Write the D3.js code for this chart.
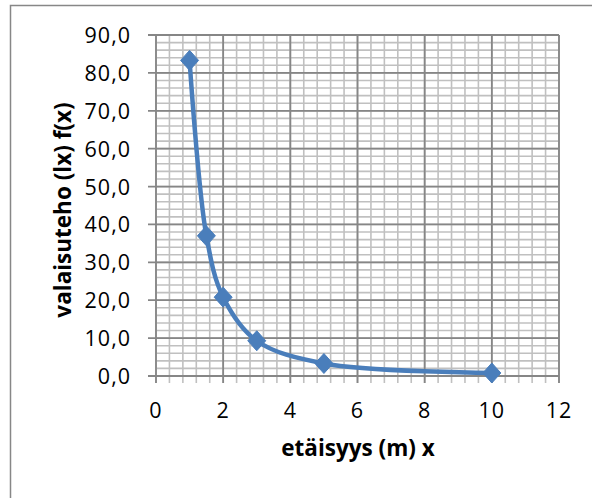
<!DOCTYPE html>
<html>
<head>
<meta charset="utf-8">
<script src="https://cdn.jsdelivr.net/npm/d3@7"></script>
<style>
  body { margin: 0; background: #ffffff; }
  svg { display: block; font-family: "Open Sans", sans-serif; }
</style>
</head>
<body>
<div id="vis"></div>
<script>
// Data
const X_VALUES = [1, 1.5, 2, 3, 5, 10];
const Y_VALUES = [83.3, 37.0, 20.8, 9.3, 3.3, 0.8];
const X_TICKS = [0, 2, 4, 6, 8, 10, 12];
const Y_TICKS = [0, 10, 20, 30, 40, 50, 60, 70, 80, 90];
const X_TITLE = "etäisyys (m) x";
const Y_TITLE = "valaisuteho (lx) f(x)";

const FRAME_WIDTH = 592;
const FRAME_HEIGHT = 498;
const PLOT = {left: 156, right: 559, top: 35, bottom: 376};

const data = X_VALUES.map((x, i) => ({x: x, y: Y_VALUES[i]}));

const svg = d3.select("#vis")
  .append("svg")
    .attr("width", FRAME_WIDTH)
    .attr("height", FRAME_HEIGHT);

// chart area border (runs off the right and bottom edges)
svg.append("rect")
    .attr("x", 10.5)
    .attr("y", 5.5)
    .attr("width", 700)
    .attr("height", 700)
    .attr("fill", "#ffffff")
    .attr("stroke", "#878787")
    .attr("stroke-width", 1.5);

// scales
const X_SCALE = d3.scaleLinear()
  .domain([0, 12])
  .range([PLOT.left, PLOT.right]);

const Y_SCALE = d3.scaleLinear()
  .domain([0, 90])
  .range([PLOT.bottom, PLOT.top]);

// minor gridlines
const X_MINOR = d3.range(0, 31).map((i) => i * 0.4);
const Y_MINOR = d3.range(0, 46).map((i) => i * 2);

const grid = svg.append("g");

grid.selectAll(".xminor")
  .data(X_MINOR)
  .enter()
  .append("line")
    .attr("x1", (d) => X_SCALE(d))
    .attr("x2", (d) => X_SCALE(d))
    .attr("y1", PLOT.top)
    .attr("y2", PLOT.bottom + 7)
    .attr("stroke", "#c0c0c0")
    .attr("stroke-width", 1.6);

grid.selectAll(".yminor")
  .data(Y_MINOR)
  .enter()
  .append("line")
    .attr("x1", PLOT.left)
    .attr("x2", PLOT.right)
    .attr("y1", (d) => Y_SCALE(d))
    .attr("y2", (d) => Y_SCALE(d))
    .attr("stroke", "#c0c0c0")
    .attr("stroke-width", 1.6);

// major gridlines
grid.selectAll(".xmajor")
  .data(X_TICKS)
  .enter()
  .append("line")
    .attr("x1", (d) => X_SCALE(d))
    .attr("x2", (d) => X_SCALE(d))
    .attr("y1", PLOT.top)
    .attr("y2", PLOT.bottom + 7)
    .attr("stroke", "#868686")
    .attr("stroke-width", 1.8);

grid.selectAll(".ymajor")
  .data(Y_TICKS)
  .enter()
  .append("line")
    .attr("x1", PLOT.left - 8)
    .attr("x2", PLOT.right)
    .attr("y1", (d) => Y_SCALE(d))
    .attr("y2", (d) => Y_SCALE(d))
    .attr("stroke", "#868686")
    .attr("stroke-width", 1.8);

// y tick labels
svg.append("g")
  .selectAll("text")
  .data(Y_TICKS)
  .enter()
  .append("text")
    .attr("x", 131)
    .attr("y", (d) => Y_SCALE(d) + 8)
    .attr("text-anchor", "end")
    .attr("font-size", "21.5px")
    .attr("letter-spacing", "1px")
    .attr("fill", "#000000")
    .text((d) => d.toFixed(1).replace(".", ","));

// x tick labels
svg.append("g")
  .selectAll("text")
  .data(X_TICKS)
  .enter()
  .append("text")
    .attr("x", (d) => X_SCALE(d))
    .attr("y", 418)
    .attr("text-anchor", "middle")
    .attr("font-size", "21.5px")
    .attr("letter-spacing", "1px")
    .attr("fill", "#000000")
    .text((d) => d);

// axis titles
svg.append("text")
    .attr("x", 358)
    .attr("y", 456)
    .attr("text-anchor", "middle")
    .attr("font-size", "22.5px")
    .attr("font-weight", "bold")
    .text(X_TITLE);

svg.append("text")
    .attr("transform", "translate(71,210) rotate(-90)")
    .attr("text-anchor", "middle")
    .attr("font-size", "22.5px")
    .attr("font-weight", "bold")
    .text(Y_TITLE);

// smoothed series line
const line = d3.line()
  .x((d) => X_SCALE(d.x))
  .y((d) => Y_SCALE(d.y))
  .curve(d3.curveCatmullRom.alpha(0.5));

svg.append("path")
    .datum(data)
    .attr("d", line)
    .attr("fill", "none")
    .attr("stroke", "#4a7ebb")
    .attr("stroke-width", 4.5)
    .attr("stroke-linejoin", "round");

// diamond markers
svg.selectAll(".point")
  .data(data)
  .enter()
  .append("path")
    .attr("class", "point")
    .attr("d", "M0,-10L9,0L0,10L-9,0Z")
    .attr("transform", (d) => "translate(" + X_SCALE(d.x) + "," + Y_SCALE(d.y) + ")")
    .attr("fill", "#4a7ebb")
    .attr("stroke", "#4a7ebb")
    .attr("stroke-width", 1);
</script>
</body>
</html>
